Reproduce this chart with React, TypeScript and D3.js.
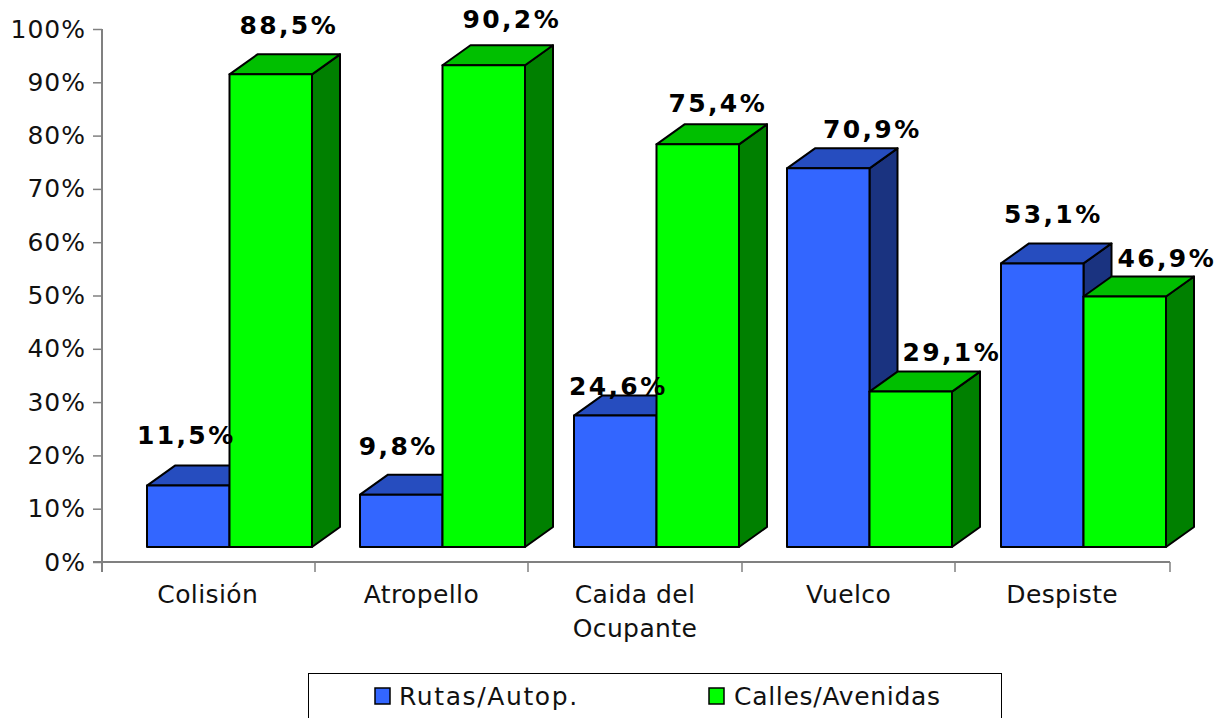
import React, { useEffect, useRef } from 'react';
import * as d3 from 'd3';

const categories = ['Colisión', 'Atropello', 'Caida del\nOcupante', 'Vuelco', 'Despiste'];
const seriesNames = ['Rutas/Autop.', 'Calles/Avenidas'];
const rutas = [11.5, 9.8, 24.6, 70.9, 53.1];
const calles = [88.5, 90.2, 75.4, 29.1, 46.9];
const yTicks = [0, 10, 20, 30, 40, 50, 60, 70, 80, 90, 100];

// hand placed label offsets, the original chart had them dragged around
const labelDx = [[-2, 18], [-3, 28], [3, 20], [44, 41], [11, 42]];
const labelDy = [[-22, -20], [-20, -17], [-1, -12], [-10, -11], [-20, -10]];

const colors = [
  { front: '#3366ff', top: '#264dbf', side: '#1a3380' },
  { front: '#00ff00', top: '#00bf00', side: '#008000' },
];

const font = '"DejaVu Sans", Verdana, sans-serif';
const fmt = (v: number) => v.toFixed(1).replace('.', ',') + '%';

function App() {
  const svgRef = useRef<SVGSVGElement>(null);

  useEffect(() => {
    const width = 1225;
    const height = 718;
    const barWidth = 82.5;
    const depthX = 28;
    const depthY = 20;
    const floorY = 547; // front of the bars sits above the axis line
    const barOffset = 45.6;

    const svg = d3.select(svgRef.current);
    svg.selectAll('*').remove();
    svg.attr('width', width).attr('height', height);

    const x = d3.scaleBand().domain(categories).range([101, 1169]);
    const y = d3.scaleLinear().domain([0, 100]).range([562, 29]);
    const barH = (v: number) => (y(0) - y(v)) * 1.002;
    const barX = (c: string, s: number) => Math.round((x(c) as number) + barOffset) + s * barWidth;

    // axes
    const yAxis = d3.axisLeft(y).tickValues(yTicks).tickSize(9).tickPadding(7)
      .tickFormat(d => d + '%');
    const gy = svg.append('g').attr('transform', 'translate(102,0)').call(yAxis);
    gy.select('.domain').attr('d', 'M0,29V572');

    const xAxis = d3.axisBottom(x).tickValues([]).tickSize(0);
    const gx = svg.append('g').attr('transform', 'translate(0,562)').call(xAxis);
    gx.select('.domain').attr('d', 'M93,0H1170');

    [gx, gy].forEach(g => {
      g.selectAll('.domain').attr('stroke', '#808080').attr('stroke-width', 2).attr('fill', 'none');
      g.selectAll('line').attr('stroke', '#808080').attr('stroke-width', 1.5);
    });
    gy.selectAll('text')
      .attr('font-family', font).attr('font-size', 25).attr('fill', '#111')
      .attr('letter-spacing', 1);

    // x ticks on the band edges
    const edges = categories.map(c => Math.round(x(c) as number));
    edges[0] = 102;
    edges.push(1170);
    svg.append('g').selectAll('line').data(edges).join('line')
      .attr('x1', d => d).attr('x2', d => d)
      .attr('y1', 562).attr('y2', 572)
      .attr('stroke', '#808080').attr('stroke-width', 1.5);

    // category labels
    const catLabels = svg.append('g').attr('font-family', font).attr('font-size', 25)
      .attr('fill', '#111').attr('text-anchor', 'middle').attr('letter-spacing', 0.4);
    categories.forEach(c => {
      const lines = c.split('\n');
      lines.forEach((line, i) => {
        catLabels.append('text')
          .attr('x', (x(c) as number) + x.bandwidth() / 2)
          .attr('y', 603 + i * 34)
          .text(line);
      });
    });

    // 3d bars, blue first so green overlaps the blue side
    const bars = svg.append('g').attr('stroke', '#000').attr('stroke-width', 2)
      .attr('stroke-linejoin', 'round');
    categories.forEach((c, i) => {
      [rutas[i], calles[i]].forEach((v, s) => {
        const x0 = barX(c, s);
        const x1 = x0 + barWidth;
        const top = floorY - barH(v);
        const col = colors[s];
        bars.append('path').attr('fill', col.side)
          .attr('d', d3.line()([[x1, floorY], [x1 + depthX, floorY - depthY], [x1 + depthX, top - depthY], [x1, top]]) + 'Z');
        bars.append('path').attr('fill', col.top)
          .attr('d', d3.line()([[x0, top], [x0 + depthX, top - depthY], [x1 + depthX, top - depthY], [x1, top]]) + 'Z');
        bars.append('rect').attr('fill', col.front)
          .attr('x', x0).attr('y', top).attr('width', barWidth).attr('height', barH(v));
      });
    });

    // value labels
    const labels = svg.append('g').attr('font-family', font).attr('font-size', 25)
      .attr('font-weight', 'bold').attr('fill', '#000').attr('text-anchor', 'middle')
      .attr('letter-spacing', 2.4);
    categories.forEach((c, i) => {
      [rutas[i], calles[i]].forEach((v, s) => {
        labels.append('text')
          .attr('x', barX(c, s) + barWidth / 2 + labelDx[i][s])
          .attr('y', floorY - barH(v) - depthY + labelDy[i][s])
          .text(fmt(v));
      });
    });

    // legend, box runs off the bottom of the picture
    const legend = svg.append('g');
    legend.append('rect').attr('x', 308.5).attr('y', 673.5).attr('width', 693).attr('height', 60)
      .attr('fill', '#fff').attr('stroke', '#000').attr('stroke-width', 1);
    const legendX = [375, 709];
    const legendSpacing = [1.6, 0.7];
    seriesNames.forEach((name, s) => {
      legend.append('rect').attr('x', legendX[s]).attr('y', 688).attr('width', 15).attr('height', 16)
        .attr('fill', colors[s].front).attr('stroke', '#000').attr('stroke-width', 1.5);
      legend.append('text').attr('x', legendX[s] + 24 + s).attr('y', 705)
        .attr('font-family', font).attr('font-size', 25).attr('fill', '#111')
        .attr('letter-spacing', legendSpacing[s]).text(name);
    });
  }, []);

  return <svg ref={svgRef} style={{ position: 'absolute', left: 0, top: 0, background: '#fff' }} />;
}

export default App;
